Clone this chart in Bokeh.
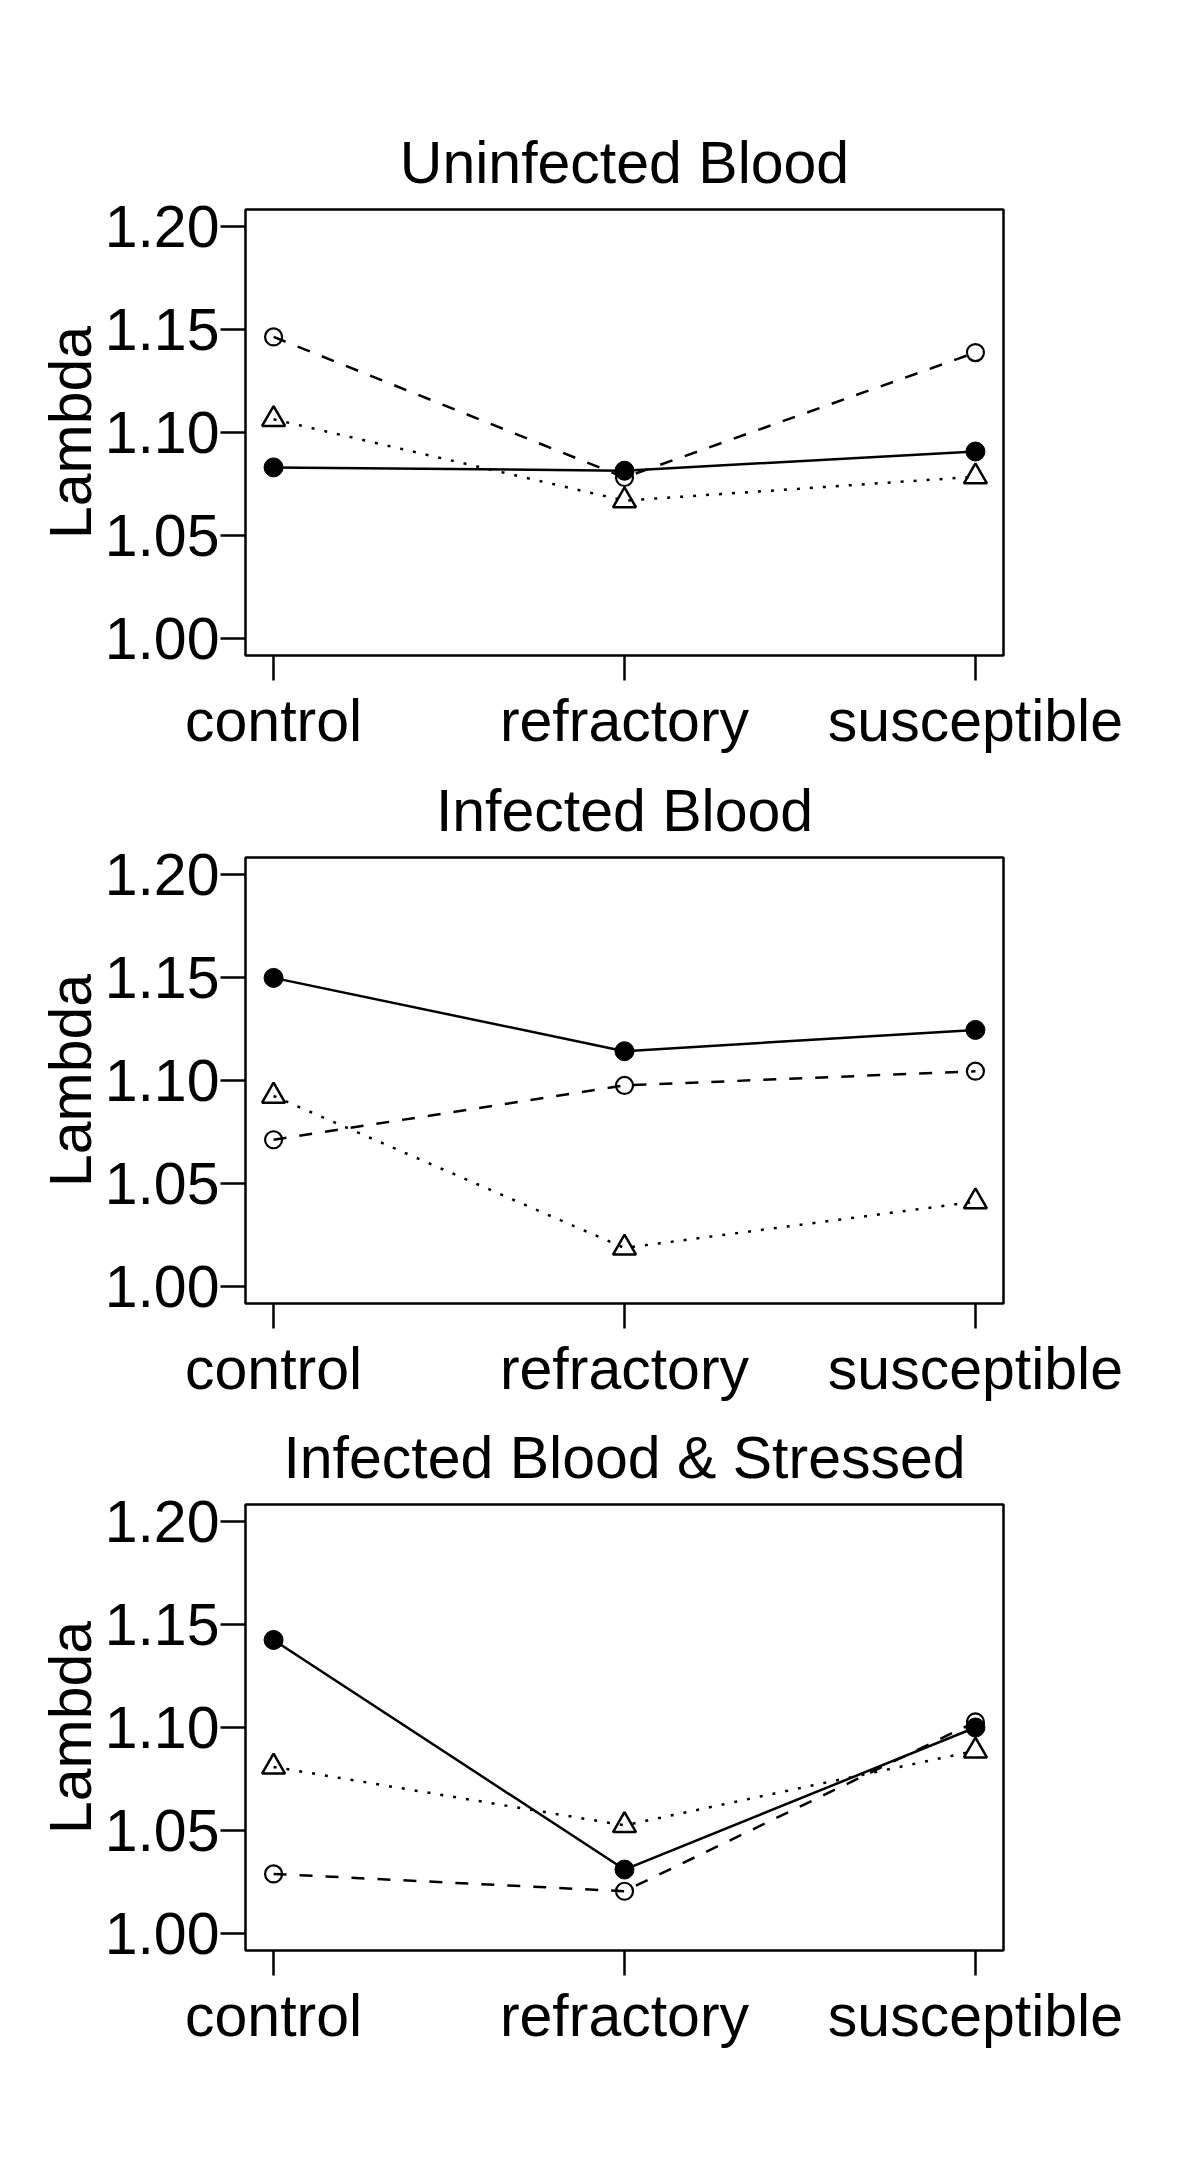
from bokeh.plotting import figure
from bokeh.layouts import column
from bokeh.models import Range1d, FixedTicker, NumeralTickFormatter
from bokeh.embed import file_html
from bokeh.resources import INLINE

categories = ["control", "refractory", "susceptible"]
panel_titles = ["Uninfected Blood", "Infected Blood", "Infected Blood & Stressed"]
y_ticks = [1.00, 1.05, 1.10, 1.15, 1.20]
y_label = "Lambda"

uninfected_solid = [1.0831, 1.0815, 1.0908]
uninfected_dashed = [1.1463, 1.0782, 1.1387]
uninfected_dotted = [1.1064, 1.0670, 1.0786]

infected_solid = [1.1497, 1.1142, 1.1245]
infected_dashed = [1.0713, 1.0976, 1.1045]
infected_dotted = [1.0925, 1.0189, 1.0413]

stressed_solid = [1.1424, 1.0312, 1.1000]
stressed_dashed = [1.0291, 1.0207, 1.1027]
stressed_dotted = [1.0809, 1.0526, 1.0887]

FONT = "Liberation Sans"
FS = "59px"
LW = 2.5


def make_panel(title, solid, dashed, dotted, height, top_border, bottom_border):
    x = [i + 1 for i in range(len(categories))]
    p = figure(width=1192, height=height, output_backend="svg", toolbar_location=None,
               x_range=Range1d(0.92, 3.08), y_range=Range1d(0.992, 1.208),
               min_border_left=245, min_border_right=189,
               min_border_top=top_border, min_border_bottom=bottom_border,
               background_fill_color="white", border_fill_color="white")
    p.title.text = title
    p.title.align = "center"
    p.title.text_font = FONT
    p.title.text_font_size = FS
    p.title.text_font_style = "normal"
    p.title.text_color = "black"
    p.title.standoff = 27

    p.outline_line_color = "black"
    p.outline_line_width = LW
    p.outline_line_alpha = 1.0
    p.xgrid.grid_line_color = None
    p.ygrid.grid_line_color = None

    for ax in (p.xaxis, p.yaxis):
        ax.axis_line_color = None
        ax.major_tick_out = 25
        ax.major_tick_in = 0
        ax.major_tick_line_width = LW
        ax.major_tick_line_color = "black"
        ax.minor_tick_line_color = None
        ax.major_label_text_font = FONT
        ax.major_label_text_font_size = FS
        ax.major_label_text_color = "black"

    p.xaxis.ticker = FixedTicker(ticks=x)
    p.xaxis.major_label_overrides = {xi: c for xi, c in zip(x, categories)}
    p.xaxis.major_label_standoff = 7

    p.yaxis.ticker = FixedTicker(ticks=y_ticks)
    p.yaxis.formatter = NumeralTickFormatter(format="0.00")
    p.yaxis.major_label_standoff = 1
    p.yaxis.axis_label = y_label
    p.yaxis.axis_label_text_font = FONT
    p.yaxis.axis_label_text_font_size = FS
    p.yaxis.axis_label_text_font_style = "normal"
    p.yaxis.axis_label_text_color = "black"
    p.yaxis.axis_label_standoff = -2

    p.line(x, dotted, line_color="black", line_width=LW, line_dash="3 10")
    p.line(x, dashed, line_color="black", line_width=LW, line_dash="13 13")
    p.line(x, solid, line_color="black", line_width=LW)

    p.scatter(x, dotted, marker="triangle", size=23, fill_color=None,
              line_color="black", line_width=LW)
    p.scatter(x, dashed, marker="circle", size=17, fill_color=None,
              line_color="black", line_width=2.2)
    p.scatter(x, solid, marker="circle", size=19, fill_color="black",
              line_color="black", line_width=1)
    return p


p1 = make_panel(panel_titles[0], uninfected_solid, uninfected_dashed, uninfected_dotted, 759, 209, 104)
p2 = make_panel(panel_titles[1], infected_solid, infected_dashed, infected_dotted, 648, 98, 104)
p3 = make_panel(panel_titles[2], stressed_solid, stressed_dashed, stressed_dotted, 647, 97, 104)

layout = column(p1, p2, p3, spacing=0)

open("out.html", "w").write(file_html(layout, INLINE))
